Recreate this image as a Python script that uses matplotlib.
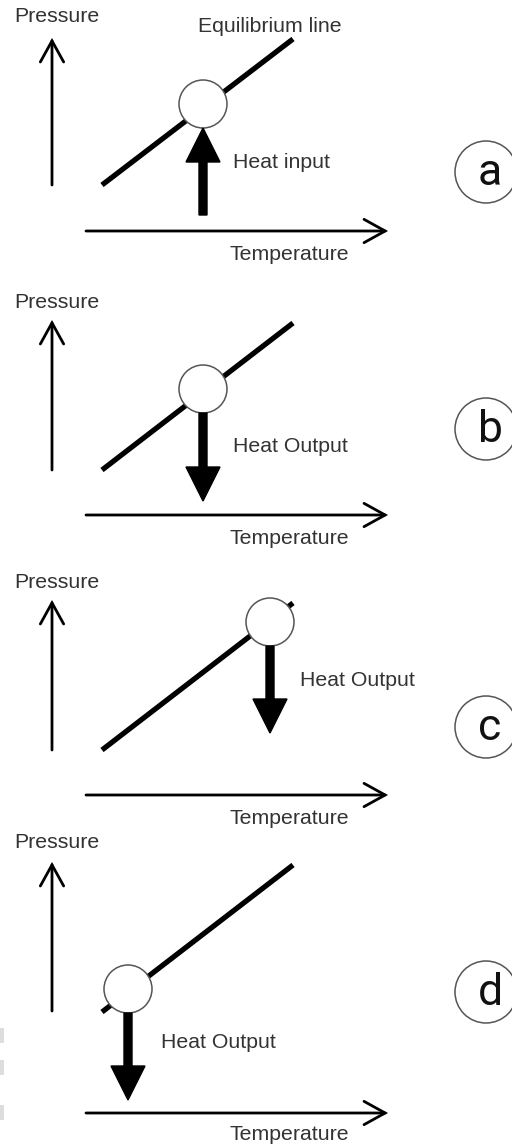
import matplotlib
matplotlib.use("Agg")
import matplotlib.pyplot as plt
from matplotlib.patches import Circle, FancyArrow, Rectangle
from matplotlib import font_manager

# ---- data (pixel coordinates of diagram elements, per panel) ----
panel_labels = ["a", "b", "c", "d"]
heat_texts = ["Heat input", "Heat Output", "Heat Output", "Heat Output"]
pressure_y = [17, 303, 583, 843]
yaxis_top = [38, 320, 600, 862]
yaxis_bottom = [185, 470, 750, 1011]
line_start = [(102, 185), (102, 470), (102, 750), (102, 1012)]
line_end = [(293, 39), (293, 323), (293, 603), (293, 865)]
circle_xy = [(203, 104), (203, 389), (270, 622), (128, 989)]
arrow_x = [203, 203, 270, 128]
arrow_from = [215, 413, 646, 1013]
arrow_to = [128, 501, 733, 1100]
heat_text_xy = [(233, 163), (233, 447), (300, 680), (161, 1043)]
xaxis_y = [231, 515, 795, 1113]
temp_y = [255, 538, 818, 1135]
label_y = [172, 429, 727, 992]

W, H = 512, 1146
fig = plt.figure(figsize=(W / 100, H / 100), dpi=100)
ax = fig.add_axes([0, 0, 1, 1])
ax.set_xlim(0, W)
ax.set_ylim(H, 0)
ax.axis("off")

names = {f.name for f in font_manager.fontManager.ttflist}
narrow = "Liberation Sans Narrow" if "Liberation Sans Narrow" in names else "Roboto"
sans = "Liberation Sans"

txt_col = "#333333"
fs = 15.3

def open_arrow(x0, y0, x1, y1, lw=2.0):
    ax.annotate("", xy=(x1, y1), xytext=(x0, y0),
                arrowprops=dict(arrowstyle="->,head_length=0.76,head_width=0.42",
                                lw=lw, color="black", shrinkA=0, shrinkB=0,
                                mutation_scale=20, joinstyle="miter"))

for i in range(4):
    # Pressure axis
    ax.text(14, pressure_y[i], "Pressure", fontsize=fs, family=sans,
            color=txt_col, ha="left", va="center")
    open_arrow(52, yaxis_bottom[i], 52, yaxis_top[i])
    # Temperature axis
    open_arrow(86, xaxis_y[i], 388, xaxis_y[i])
    ax.text(229, temp_y[i], "Temperature", fontsize=fs, family=sans,
            color=txt_col, ha="left", va="center")
    # equilibrium line
    (x0, y0), (x1, y1) = line_start[i], line_end[i]
    ax.plot([x0, x1], [y0, y1], color="black", lw=3.8, solid_capstyle="butt", zorder=2)
    # state circle
    cx, cy = circle_xy[i]
    ax.add_patch(Circle((cx, cy), 24, facecolor="white", edgecolor="#555555",
                        lw=1.1, zorder=3))
    # heat arrow
    ax.add_patch(FancyArrow(arrow_x[i], arrow_from[i], 0, arrow_to[i] - arrow_from[i],
                            width=8, head_width=34, head_length=34,
                            length_includes_head=True, color="black", zorder=4))
    tx, ty = heat_text_xy[i]
    ax.text(tx, ty, heat_texts[i], fontsize=fs, family=sans, color=txt_col,
            ha="left", va="center")
    # panel label
    ax.add_patch(Circle((486, label_y[i]), 31, facecolor="white", edgecolor="#555555",
                        lw=1.1, zorder=3))
    ax.text(490, label_y[i] + 1, panel_labels[i], fontsize=32, family=narrow,
            color="#111111", ha="center", va="center", zorder=4)

ax.text(198, 26, "Equilibrium line", fontsize=fs, family=sans, color=txt_col,
        ha="left", va="center")

# faint marks at left edge
for yy in [1028, 1060, 1105]:
    ax.add_patch(Rectangle((0, yy), 4, 15, facecolor="#dddddd", edgecolor="none"))

fig.savefig("out.png", dpi=100)
